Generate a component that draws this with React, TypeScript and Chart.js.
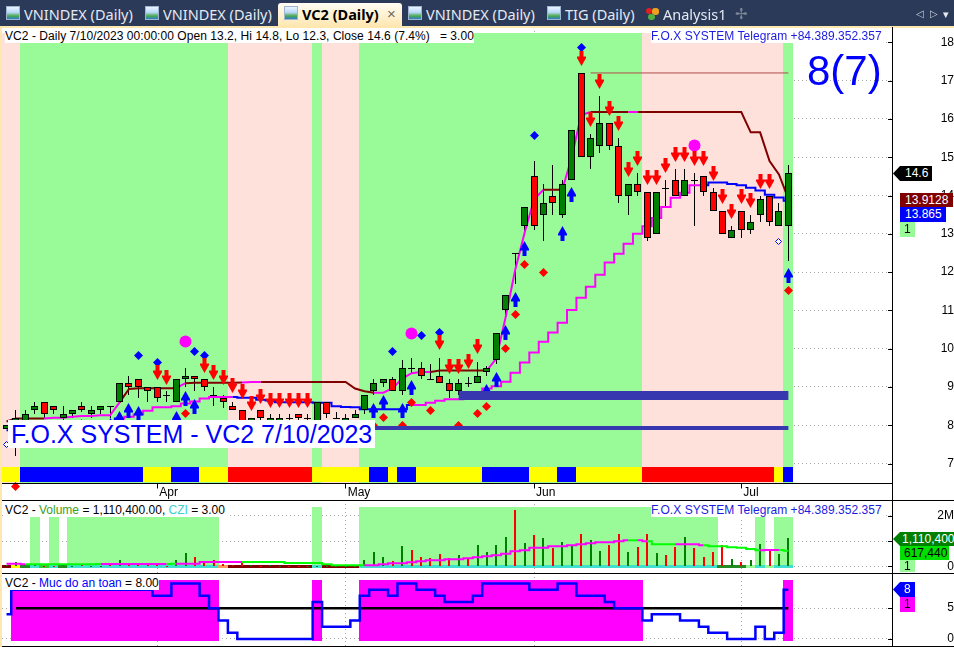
import React, { useEffect, useRef } from "react";
import { Chart, registerables } from "chart.js";

Chart.register(...registerables);

const opens = [7.9,8.0,8.1,8.4,8.6,8.5,8.2,8.3,8.5,8.3,8.4,8.5,8.6,9.1,9.2,9.0,9.0,8.8,8.6,9.2,9.3,9.2,8.8,8.7,8.5,8.4,8.1,8.4,8.1,8.1,8.2,8.3,8.2,8.1,8.6,8.2,8.1,8.2,8.4,8.9,9.1,9.2,8.9,9.5,9.5,9.2,9.3,9.1,8.9,9.1,9.1,9.4,9.7,11.0,12.5,13.2,14.5,13.5,14.0,13.5,14.4,17.2,15.0,15.3,15.9,15.3,14.0,14.3,14.1,13.0,14.2,14.4,14.0,14.4,14.5,14.1,13.6,12.9,13.6,13.1,13.5,14.0,13.2,13.2];
const highs = [8.0,8.4,8.4,8.6,8.6,8.5,8.5,8.4,8.6,8.5,8.5,8.5,9.1,9.3,9.2,9.0,9.0,8.9,9.2,9.5,9.3,9.2,9.0,8.8,8.6,8.4,8.2,8.4,8.3,8.3,8.3,8.3,8.3,8.6,8.6,8.35,8.3,8.4,8.8,9.2,9.2,9.25,9.7,9.75,9.65,9.6,9.75,9.2,9.2,9.25,9.65,9.55,10.4,11.4,12.5,13.7,14.9,14.3,14.8,14.4,15.7,17.2,15.6,16.6,15.9,15.5,14.3,14.6,14.1,14.1,14.4,14.7,14.7,14.6,14.5,14.2,13.6,13.2,13.6,13.5,14.0,14.0,13.8,14.8];
const lows = [7.9,7.2,8.0,8.3,8.2,8.3,8.15,8.2,8.35,8.2,8.3,8.2,8.6,8.8,8.7,8.6,8.6,8.6,8.6,9.0,8.9,8.9,8.5,8.45,8.4,7.9,8.1,8.1,8.1,8.1,8.1,8.1,8.1,8.1,8.2,8.2,8.1,8.2,8.3,8.8,9.0,8.9,8.8,9.35,9.2,9.2,9.1,8.7,8.8,9.0,9.1,9.3,9.6,10.8,11.7,13.0,13.1,12.8,13.5,13.4,14.4,15.0,14.7,15.1,15.2,13.8,13.5,14.0,12.8,13.0,13.7,14.0,14.0,13.2,14.0,13.6,13.0,12.9,12.9,13.0,13.3,13.2,13.2,12.3];
const closes = [8.0,8.2,8.3,8.5,8.3,8.4,8.3,8.4,8.4,8.4,8.5,8.5,9.1,9.0,9.0,8.9,8.7,8.8,9.2,9.3,9.2,9.0,8.8,8.6,8.4,8.0,8.2,8.2,8.2,8.2,8.2,8.2,8.2,8.6,8.3,8.2,8.2,8.3,8.8,9.1,9.2,8.9,9.5,9.5,9.3,9.2,9.1,8.9,9.1,9.1,9.3,9.5,10.4,11.4,12.5,13.7,13.2,13.8,13.8,14.3,15.7,15.0,15.5,15.9,15.3,14.0,14.3,14.1,12.9,14.1,14.2,14.0,14.4,14.4,14.1,13.6,13.0,13.1,13.1,13.3,13.9,13.3,13.6,14.6];

const upperLine = [8.1,8.18,8.18,8.18,8.18,8.2,8.2,8.22,8.24,8.24,8.26,8.26,8.6,8.95,8.97,8.97,8.97,8.97,8.97,9.1,9.11,9.11,9.11,9.11,9.11,9.12,9.13,9.13,9.13,9.13,9.13,9.13,9.13,9.13,9.13,9.13,9.13,8.96,8.89,8.85,8.85,8.97,9.22,9.36,9.39,9.39,9.43,9.43,9.43,9.43,9.43,9.43,9.75,10.84,12.06,13.03,13.9,14.15,14.15,14.15,15.0,16.1,16.18,16.18,16.18,16.18,16.18,16.18,16.18,16.18,16.18,16.18,16.18,16.18,16.18,16.18,16.18,16.18,16.18,15.65,15.65,14.9,14.55,13.9128];
const upperUpSpans = [[4,11],[18,18],[25,26],[39,44],[51,56],[59,61],[66,66]];
const lowerLine = [7.87,7.9,7.92,7.95,7.97,7.98,8.0,8.02,8.04,8.06,8.08,8.1,8.18,8.22,8.28,8.38,8.47,8.47,8.5,8.57,8.62,8.7,8.74,8.74,8.74,8.72,8.72,8.67,8.65,8.6,8.6,8.6,8.6,8.59,8.59,8.5,8.48,8.47,8.42,8.42,8.42,8.42,8.42,8.53,8.53,8.59,8.64,8.68,8.68,8.72,8.8,8.96,9.02,9.14,9.37,9.64,9.9,10.18,10.42,10.68,11.01,11.33,11.62,11.93,12.25,12.48,12.74,13.0,13.2,13.41,13.7,13.94,14.07,14.27,14.27,14.34,14.34,14.3,14.27,14.2,14.13,14.02,13.95,13.865];
const lowerBlueSpans = [[0,11],[24,42],[74,83]];

const redArrowX = [16,17,21,22,23,24,25,26,27,28,29,30,31,32,46,47,48,49,50,61,62,63,64,65,66,67,68,69,70,71,72,73,74,75,76,77,78,79,80,81];
const redArrowY = [9.38,9.27,9.57,9.38,9.27,9.06,8.9,8.57,8.77,8.67,8.67,8.67,8.67,8.67,10.17,9.56,9.56,9.67,10.08,17.59,16.0,17.0,16.29,15.9,14.7,14.98,14.49,14.49,14.8,15.09,15.09,14.98,14.98,14.6,13.98,13.6,13.98,13.88,14.38,14.38];
const blueArrowX = [8,11,12,13,14,18,19,20,39,40,42,43,51,52,53,54,55,59,60,83];
const blueArrowY = [7.98,8.0,8.18,8.4,8.31,8.18,8.71,8.51,8.4,8.6,8.4,9.0,8.89,9.22,10.43,11.31,12.62,13.01,14.03,11.92];
const blueDotX = [14,16,20,21,41,44,46,56,61];
const blueDotY = [9.84,9.65,9.94,9.84,9.94,10.36,10.44,15.57,17.87];
const redDotX = [1,19,39,40,42,43,45,48,50,51,53,54,55,57,83];
const redDotY = [6.41,8.32,8.0,8.21,8.0,8.6,8.4,8.0,8.32,8.5,10.02,10.91,12.22,12.01,11.52];
const bigDotX = [19,43,73];
const bigDotY = [10.2,10.4,15.32];
const hollowX = [0,82];
const hollowY = [7.5,12.82];

const priceGreenSpans = [[2,23],[33,33],[38,67],[83,83]];
const stripBlueSpans = [[2,14],[18,20],[39,40],[42,43],[51,55],[59,60],[83,83]];
const stripRedSpans = [[24,32],[68,81]];
const supportThick = { from: 48, to: 83, level: 8.78 };
const supportThin = { from: 38, to: 83, level: 7.93 };
const peakLine = { from: 62, to: 83, level: 17.2 };

const priceTicks = [7,8,9,10,11,12,13,14,15,16,17,18];
const monthIndex = [16,36,56,78];
const monthNames = ["Apr","May","Jun","Jul"];

const volumes = [0.07,0.16,0.1,0.04,0.03,0.03,0.08,0.03,0.08,0.03,0.03,0.1,0.24,0.1,0.12,0.04,0.12,0.02,0.24,0.52,0.36,0.2,0.24,0.08,0.04,0.12,0.04,0.02,0.04,0.02,0.02,0.02,0.02,0.02,0.02,0.02,0.02,0.02,0.24,0.56,0.36,0.2,0.8,0.64,0.36,0.32,0.48,0.32,0.44,0.32,0.84,0.56,0.84,1.15,2.23,0.91,1.23,1.11,0.72,0.95,0.8,1.27,1.03,0.6,0.84,1.27,0.56,0.76,1.27,0.52,0.44,0.76,1.15,0.72,0.36,0.56,0.84,0.28,0.16,0.24,0.87,0.6,0.48,1.11];
const volumeRedBars = [4,5,8,11,13,14,15,16,17,20,21,22,23,24,25,27,30,31,41,43,44,45,46,47,49,54,56,58,61,64,65,67,68,70,71,73,74,75,76,78,81];
const volumeAvg = [0.106,0.106,0.08,0.08,0.08,0.08,0.08,0.08,0.08,0.08,0.093,0.093,0.093,0.093,0.093,0.093,0.093,0.093,0.106,0.106,0.106,0.172,0.172,0.172,0.172,0.172,0.172,0.172,0.172,0.172,0.133,0.133,0.133,0.133,0.08,0.04,0.04,0.04,0.04,0.04,0.08,0.119,0.119,0.159,0.199,0.239,0.239,0.278,0.278,0.318,0.358,0.398,0.437,0.504,0.596,0.636,0.742,0.742,0.795,0.795,0.835,0.875,0.915,0.954,0.954,0.994,1.034,1.034,0.994,0.875,0.875,0.875,0.875,0.875,0.835,0.795,0.795,0.755,0.742,0.689,0.636,0.649,0.649,0.617];
const volumeAvgUpSpans = [[0,1],[10,16],[18,24],[38,65],[67,67],[71,73],[80,81]];
const volumeGreenSpans = [[3,3],[5,5],[7,22],[33,33],[38,75],[80,80],[82,83]];
const volumeStripCodes = [0,1,2,3,4,3,2,3,3,3,3,3,3,3,3,3,3,3,3,3,3,3,3,5,0,0,0,0,0,0,0,0,0,3,0,0,0,0,3,3,3,3,3,3,3,3,3,3,3,3,3,3,3,3,3,3,3,3,3,3,3,3,3,3,3,3,3,3,3,3,3,3,3,3,3,3,2,2,2,6,3,6,3,3];
const volumeTicks = [0,1,2];
const volumeTickLabels = ["0","","2M"];

const safety = [4,8,8,8,8,8,8,8,8,8,8,8,8,8,8,8,7,7,9,9,9,7,5,3,1,0,0,0,0,0,0,0,0,6,2,2,2,3,7,8,8,7,9,9,8,8,7,6,6,6,7,9,9,9,9,9,8,8,8,9,9,7,7,7,6,5,5,5,3,4,4,4,3,3,2,1,1,0,0,0,2,0,1,8];
const safetyMiddle = 5;
const safetyZoneSpans = [[1,22],[33,33],[38,67],[83,83]];
const safetyTicks = [0,5];

const C = {
  green: "#98fb98", rose: "#ffe1dc", up: "#008000", down: "#ff0000", blue: "#0000ff",
  magenta: "#ff00ff", darkRed: "#800000", lime: "#00ff00", navy: "#2c3a59", slate: "#3737b0",
  cream: "#ffe8b0", grid: "#a8a8a8",
};
const stripPalette = ["#800000","#ffff00","#228b22","#40e0d0","#32cd32","#ffa060","#98fb98"];

const inSpans = (i: number, spans: number[][]) => spans.some(([a, b]) => i >= a && i <= b);
const idx = opens.map((_, i) => i);
const pts = (xs: number[], ys: number[]) => xs.map((x, i) => ({ x, y: ys[i] }));
const X_MIN = -0.48;
const X_MAX = 94.0;

function arrow(color: string, up: boolean) {
  const c = document.createElement("canvas");
  c.width = 9; c.height = 15;
  const g = c.getContext("2d")!;
  g.fillStyle = color;
  g.beginPath();
  const shape: number[][] = [[4.5,0],[9,8],[9,9.5],[6.5,9.5],[6.5,15],[2.5,15],[2.5,9.5],[0,9.5],[0,8]];
  shape.forEach(([x, y], i) => {
    const py = up ? y : 15 - y;
    if (i === 0) g.moveTo(x, py); else g.lineTo(x, py);
  });
  g.closePath();
  g.fill();
  return c;
}

const snapPlugin = {
  id: "snap",
  beforeDatasetsDraw(chart: any) {
    chart.getSortedVisibleDatasetMetas().forEach((meta: any) => {
      if (meta.type === "bar") {
        meta.data.forEach((el: any) => {
          el.x = Math.round(el.width) % 2 === 1 ? Math.floor(el.x) + 0.5 : Math.round(el.x);
          el.y = Math.round(el.y);
          el.base = Math.round(el.base);
          if (el.y === el.base) el.base = el.y + 1;
        });
      } else if (meta.type === "line" && meta.dataset.options && meta.dataset.options.borderWidth === 0) {
        meta.data.forEach((el: any) => {
          el.x = Math.floor(el.x) + 0.5;
          el.y = Math.round(el.y) + 0.5;
        });
      }
    });
  },
  afterDraw(chart: any) {
    const s = chart.scales.y;
    const g = chart.ctx;
    g.save();
    g.fillStyle = "#000";
    s.ticks.forEach((t: any) => {
      g.fillRect(s.left - 4, Math.round(s.getPixelForValue(t.value)), 4, 1);
    });
    g.restore();
  },
};

const barBase = { type: "bar", grouped: false, barPercentage: 1, categoryPercentage: 1.2, borderWidth: 0 };
const scatter = (data: any[], style: any, color: string, radius: number, extra: any = {}) => ({
  type: "line", data, showLine: false, borderWidth: 0, pointStyle: style, pointRadius: radius,
  pointBackgroundColor: color, pointBorderColor: color, pointBorderWidth: 0, ...extra,
});
const level = (l: { from: number; to: number; level: number }, color: string, width: number) => ({
  type: "line", data: [{ x: l.from, y: l.level }, { x: l.to, y: l.level }], borderColor: color,
  borderWidth: width, pointRadius: 0,
});
const ordered = (list: any[]) => list.map((d, i) => ({ ...d, order: list.length - i }));

function options(yMin: number, yMax: number, ticks: number[], labels: (string)[], pad: number, xHeight: number, withMonths: boolean) {
  return {
    responsive: false, animation: false, events: [],
    layout: { autoPadding: false, padding: { left: 2, right: 0, top: 0, bottom: 0 } },
    plugins: { legend: { display: false }, tooltip: { enabled: false } },
    scales: {
      x: {
        type: "linear", min: X_MIN, max: X_MAX, offset: false,
        afterBuildTicks: (s: any) => { s.ticks = monthIndex.map((value) => ({ value })); },
        afterFit: (s: any) => { s.height = xHeight; s.paddingLeft = 0; s.paddingRight = 0; s.paddingTop = 0; s.paddingBottom = 0; },
        border: { display: false, dash: [1, 3] },
        grid: { offset: false, color: C.grid, tickColor: "#000", tickLength: 5, drawTicks: withMonths, tickBorderDash: [] },
        ticks: {
          display: withMonths, autoSkip: false, maxRotation: 0, minRotation: 0, align: "start", labelOffset: 2, padding: -3,
          color: "#000", font: { family: "Liberation Sans", size: 12 },
          callback: (v: number) => monthNames[monthIndex.indexOf(v)] ?? "",
        },
      },
      y: {
        type: "linear", position: "right", min: yMin, max: yMax, beginAtZero: false,
        afterBuildTicks: (s: any) => { s.ticks = ticks.map((value) => ({ value })); },
        afterFit: (s: any) => { s.width = 62; s.paddingTop = 0; s.paddingBottom = 0; s.paddingLeft = 0; s.paddingRight = 0; },
        border: { display: false, dash: [1, 3] },
        grid: { color: C.grid, drawTicks: false },
        ticks: {
          crossAlign: "far", padding: pad, autoSkip: false, color: "#000",
          font: { family: "Liberation Sans", size: 12 },
          callback: (v: number) => labels[ticks.indexOf(v)] ?? "",
        },
      },
    },
  };
}

function usePanel(make: () => any) {
  const ref = useRef<HTMLCanvasElement | null>(null);
  useEffect(() => {
    const chart = new Chart(ref.current!, make());
    return () => chart.destroy();
  }, []);
  return ref;
}

const pricePanel = () => ({
  type: "bar",
  plugins: [snapPlugin],
  data: {
    datasets: ordered([
      { ...barBase, maxBarThickness: 10, data: idx.map((i) => ({ x: i, y: [6.5, 18.24] })),
        backgroundColor: idx.map((i) => (inSpans(i, priceGreenSpans) ? C.green : C.rose)) },
      { ...barBase, maxBarThickness: 10, data: idx.map((i) => ({ x: i, y: [6.51, 6.91] })),
        backgroundColor: idx.map((i) => (inSpans(i, stripBlueSpans) ? C.blue : inSpans(i, stripRedSpans) ? "#ff0000" : "#ffff00")) },
      { ...barBase, maxBarThickness: 1, data: idx.map((i) => ({ x: i, y: [lows[i], highs[i]] })), backgroundColor: "#000" },
      { type: "line", data: pts(idx, lowerLine), borderColor: C.magenta, borderWidth: 2, pointRadius: 0, stepped: "middle",
        segment: { borderColor: (c: any) => (inSpans(c.p0DataIndex, lowerBlueSpans) ? C.blue : C.magenta) } },
      { type: "line", data: pts(idx, upperLine), borderColor: C.darkRed, borderWidth: 2, pointRadius: 0,
        segment: { borderColor: (c: any) => (inSpans(c.p0DataIndex, upperUpSpans) ? C.magenta : C.darkRed) } },
      { ...barBase, maxBarThickness: 7, borderWidth: 1, borderColor: "#000", borderSkipped: false,
        data: idx.map((i) => ({ x: i, y: [opens[i], closes[i]] })),
        backgroundColor: idx.map((i) => (closes[i] >= opens[i] ? C.up : C.down)) },
      level(peakLine, "#b04c4c", 1),
      scatter(pts(redDotX, redDotY), "rectRot", "#ff0000", 4.5, { clip: false }),
      scatter(pts(blueDotX, blueDotY), "rectRot", C.blue, 4.5),
      scatter(pts(bigDotX, bigDotY), "circle", C.magenta, 6),
      scatter(pts(hollowX, hollowY), "rectRot", "#ffffff", 3, { pointBorderColor: C.blue, pointBorderWidth: 1 }),
      scatter(pts(blueArrowX, blueArrowY), arrow(C.blue, true), C.blue, 5),
      scatter(pts(redArrowX, redArrowY), arrow("#ff0000", false), "#ff0000", 5),
      level(supportThick, C.slate, 9),
      level(supportThin, C.slate, 4),
    ]),
  },
  options: options(6.48, 18.4, priceTicks, priceTicks.map(String), 43.6, 16.5, true),
});

const volumePanel = () => ({
  type: "bar",
  plugins: [snapPlugin],
  data: {
    datasets: ordered([
      { ...barBase, maxBarThickness: 10,
        data: idx.filter((i) => inSpans(i, volumeGreenSpans)).map((i) => ({ x: i, y: [-0.07, 2.36] })),
        backgroundColor: C.green },
      { ...barBase, maxBarThickness: 10, data: idx.map((i) => ({ x: i, y: [-0.07, 0.05] })),
        backgroundColor: volumeStripCodes.map((c) => stripPalette[c]) },
      { ...barBase, maxBarThickness: 2, data: idx.map((i) => ({ x: i, y: [0, volumes[i]] })),
        backgroundColor: idx.map((i) => (volumeRedBars.includes(i) ? "#ff0000" : "#008000")) },
      { type: "line", data: pts(idx, volumeAvg), borderColor: C.lime, borderWidth: 2, pointRadius: 0, stepped: "middle",
        segment: { borderColor: (c: any) => (inSpans(c.p0DataIndex, volumeAvgUpSpans) ? C.magenta : C.lime) } },
    ]),
  },
  options: options(-0.266, 2.636, volumeTicks, volumeTickLabels, 40.3, 0, false),
});

const safetyPanel = () => ({
  type: "bar",
  plugins: [snapPlugin],
  data: {
    datasets: ordered([
      { ...barBase, maxBarThickness: 10,
        data: idx.filter((i) => inSpans(i, safetyZoneSpans)).map((i) => ({ x: i, y: [-0.28, 9.61] })),
        backgroundColor: C.magenta },
      level({ from: 1, to: 83, level: safetyMiddle }, "#000", 2.5),
      { type: "line", data: pts(idx, safety), borderColor: C.blue, borderWidth: 2.5, pointRadius: 0, stepped: "middle" },
    ]),
  },
  options: options(-1.14, 10.7, safetyTicks, safetyTicks.map(String), 50.3, 0, false),
});

const SANS = '"Liberation Sans", Arial, sans-serif';
const TAB = '"Noto Sans", sans-serif';

function Box(p: { x: number; y: number; w?: number; h: number; bg?: string; color?: string; font?: number; pad?: number; family?: string; weight?: number; arrow?: boolean; children?: any; spacing?: number }) {
  return (
    <div
      style={{
        position: "absolute", left: p.x, top: p.y, width: p.w, height: p.h, background: p.bg, color: p.color ?? "#000",
        fontFamily: p.family ?? SANS, fontSize: p.font ?? 12, fontWeight: p.weight ?? 400, lineHeight: `${p.h}px`,
        paddingLeft: p.pad ?? 0, boxSizing: "border-box", whiteSpace: "pre", overflow: "hidden", letterSpacing: p.spacing ?? 0,
        clipPath: p.arrow ? "polygon(7px 0, 100% 0, 100% 100%, 7px 100%, 0 50%)" : undefined,
      }}
    >
      {p.children}
    </div>
  );
}

function TabIcon({ x }: { x: number }) {
  return (
    <div style={{ position: "absolute", left: x, top: 6, width: 14, height: 14, boxSizing: "border-box", border: "1px solid #9fb4d0",
      background: "linear-gradient(180deg,#eaf4ff 0%,#b8d8f8 45%,#4aa84a 75%,#2f7fd0 100%)" }} />
  );
}

const tabs = [
  { icon: 6, text: 24, label: "VNINDEX (Daily)" },
  { icon: 145, text: 163, label: "VNINDEX (Daily)" },
  { icon: 408, text: 426, label: "VNINDEX (Daily)" },
  { icon: 547, text: 565, label: "TIG (Daily)" },
];

export default function App() {
  const a = usePanel(pricePanel);
  const b = usePanel(volumePanel);
  const c = usePanel(safetyPanel);
  const canvasStyle = (top: number): React.CSSProperties => ({ position: "absolute", left: 0, top, display: "block" });
  return (
    <div style={{ position: "fixed", left: 0, top: 0, width: 954, height: 647, overflow: "hidden", background: "#fff" }}>
      <canvas ref={a} width={954} height={473} style={canvasStyle(27)} />
      <canvas ref={b} width={954} height={73} style={canvasStyle(500)} />
      <canvas ref={c} width={954} height={73} style={canvasStyle(573)} />

      <div style={{ position: "absolute", left: 0, top: 0, width: 954, height: 26, background: C.navy }} />
      <div style={{ position: "absolute", left: 0, top: 26, width: 954, height: 1.5, background: C.cream }} />
      <div style={{ position: "absolute", left: 0, top: 26, width: 2, height: 621, background: C.cream }} />
      {tabs.map((t, i) => (
        <React.Fragment key={i}>
          <TabIcon x={t.icon} />
          <Box x={t.text} y={2} h={24} color="#e4e9f2" family={TAB} font={14.5}>{t.label}</Box>
        </React.Fragment>
      ))}
      <div style={{ position: "absolute", left: 278, top: 3, width: 124, height: 24, borderRadius: "3px 3px 0 0", background: "linear-gradient(180deg,#fffdf6,#ffe6ae)" }} />
      <TabIcon x={284} />
      <Box x={302} y={2} h={24} family={TAB} font={14.5} weight={700}>VC2 (Daily)</Box>
      <Box x={387} y={2} h={24} color="#6b6b60" font={15}>×</Box>
      <div style={{ position: "absolute", left: 646, top: 8, width: 6, height: 6, borderRadius: 3, background: "#e02020" }} />
      <div style={{ position: "absolute", left: 652, top: 8, width: 7, height: 7, borderRadius: 3, background: "#f0a020" }} />
      <div style={{ position: "absolute", left: 648, top: 14, width: 7, height: 6, borderRadius: 3, background: "#50b040" }} />
      <Box x={663} y={2} h={24} color="#e4e9f2" family={TAB} font={14.5}>Analysis1</Box>
      <Box x={735} y={2} h={24} color="#7d8798" font={15}>✢</Box>
      <Box x={916} y={2} h={24} color="#c8d0dc" font={10}>◁</Box>
      <Box x={930} y={2} h={24} color="#c8d0dc" font={10}>▷</Box>
      <Box x={943} y={2} h={24} color="#e8ecf2" font={11}>▾</Box>

      <Box x={5} y={29} w={469} h={14} bg="#fff" spacing={0.05}>VC2 - Daily 7/10/2023 00:00:00 Open 13.2, Hi 14.8, Lo 12.3, Close 14.6 (7.4%)   = 3.00</Box>
      <Box x={651} y={28.5} w={232} h={14} bg="#fff" color="#1c1ce0" spacing={0.05}>F.O.X SYSTEM Telegram +84.389.352.357</Box>
      <Box x={807} y={47} h={48} color={C.blue} font={42}>8(7)</Box>
      <Box x={8} y={420} w={367} h={28} bg="#fff" color={C.blue} font={25} pad={3}>F.O.X SYSTEM - VC2 7/10/2023</Box>

      <Box x={5} y={503} w={222} h={14} bg="#fff">VC2 - <span style={{ color: "#3aa020" }}>Volume</span> = 1,110,400.00, <span style={{ color: "#40d0d0" }}>CZI</span> = 3.00</Box>
      <Box x={651} y={503} w={232} h={14} bg="#fff" color="#1c1ce0" spacing={0.05}>F.O.X SYSTEM Telegram +84.389.352.357</Box>
      <Box x={5} y={576} w={154} h={14} bg="#fff">VC2 - <span style={{ color: C.blue }}>Muc do an toan</span> = 8.00</Box>

      <Box x={893} y={166} w={39} h={15} bg="#000" color="#fff" pad={12} arrow>14.6</Box>
      <Box x={900} y={193} w={53} h={14} bg="#800000" color="#fff" pad={5}>13.9128</Box>
      <Box x={900} y={207} w={46} h={15} bg={C.blue} color="#fff" pad={5}>13.865</Box>
      <Box x={900} y={222} w={15} h={15} bg={C.green} pad={4}>1</Box>

      <Box x={893} y={532} w={61} h={14} bg="#008000" color="#fff" pad={9} arrow>1,110,400</Box>
      <Box x={900} y={546} w={49} h={14} bg="#00e000" pad={4}>617,440</Box>
      <Box x={900} y={560} w={15} h={12} bg={C.green} pad={4}>1</Box>

      <Box x={893} y={582} w={22} h={15} bg={C.blue} color="#fff" pad={11} arrow>8</Box>
      <Box x={900} y={597} w={15} h={15} bg={C.magenta} pad={4}>1</Box>

      <div style={{ position: "absolute", left: 2, top: 483, width: 890, height: 1, background: "#000" }} />
      <div style={{ position: "absolute", left: 2, top: 500, width: 952, height: 1, background: "#000" }} />
      <div style={{ position: "absolute", left: 2, top: 573, width: 952, height: 1, background: "#000" }} />
      <div style={{ position: "absolute", left: 2, top: 646, width: 952, height: 1, background: "#000" }} />
      <div style={{ position: "absolute", left: 892, top: 27, width: 1, height: 620, background: "#000" }} />
    </div>
  );
}
